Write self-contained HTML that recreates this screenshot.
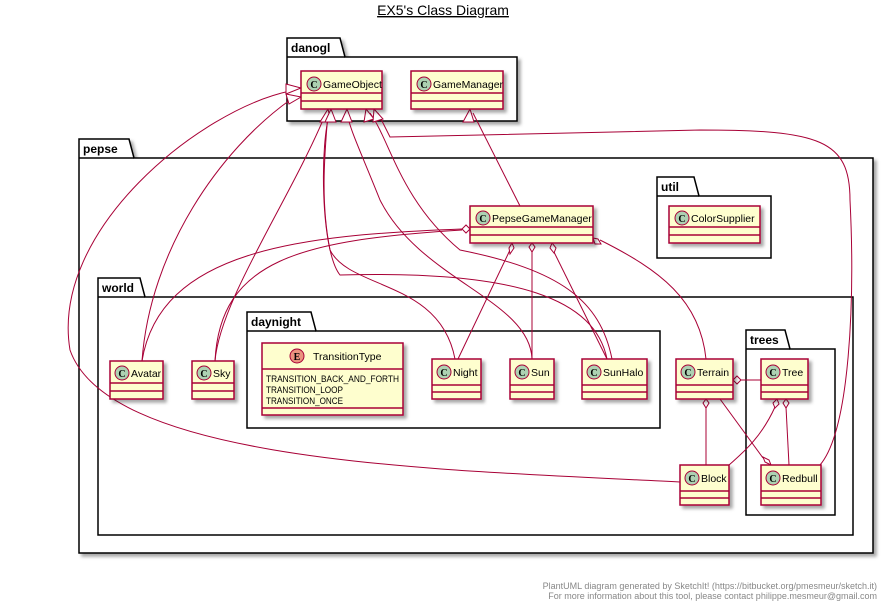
<!DOCTYPE html>
<html><head><style>
body{margin:0;background:#fff;}
svg{display:block;font-family:"Liberation Sans",sans-serif;}
.cls{fill:#FEFECE;stroke:#A80036;stroke-width:1.5;}
.pk{fill:#fff;stroke:#000;stroke-width:1.5;}
.ln{fill:none;stroke:#A80036;stroke-width:1;}
.t{font-size:10.5px;fill:#000;}
.pt{font-size:12px;font-weight:bold;fill:#000;}
</style></head><body>
<svg width="887" height="604" viewBox="0 0 887 604">
<defs>
<filter id="sh" x="-10%" y="-10%" width="130%" height="130%"><feDropShadow dx="3" dy="3" stdDeviation="1.5" flood-color="#000" flood-opacity="0.35"/></filter>
</defs>
<text x="443" y="15" text-anchor="middle" style="font-size:14px;text-decoration:underline">EX5's Class Diagram</text>

<g filter="url(#sh)">
<path class="pk" d="M287,38 h53 l5,19 h172 v64 h-230 z"/>
<path class="pk" d="M79,139 h50 l5,19 h739 v395 h-794 z"/>
<path class="pk" d="M657,177 h37 l5,19 h72 v62 h-114 z"/>
<path class="pk" d="M98,278 h42 l5,19 h708 v238 h-755 z"/>
<path class="pk" d="M247,312 h64 l5,19 h344 v97 h-413 z"/>
<path class="pk" d="M746,330 h39 l5,19 h45 v166 h-89 z"/>
</g>
<line x1="287" y1="57" x2="345" y2="57" stroke="#000" stroke-width="1.5"/>
<line x1="79" y1="158" x2="134" y2="158" stroke="#000" stroke-width="1.5"/>
<line x1="657" y1="196" x2="699" y2="196" stroke="#000" stroke-width="1.5"/>
<line x1="98" y1="297" x2="145" y2="297" stroke="#000" stroke-width="1.5"/>
<line x1="247" y1="331" x2="316" y2="331" stroke="#000" stroke-width="1.5"/>
<line x1="746" y1="349" x2="790" y2="349" stroke="#000" stroke-width="1.5"/>
<text class="pt" x="291" y="52">danogl</text>
<text class="pt" x="83" y="153">pepse</text>
<text class="pt" x="661" y="191">util</text>
<text class="pt" x="102" y="292">world</text>
<text class="pt" x="251" y="326">daynight</text>
<text class="pt" x="750" y="344">trees</text>

<g class="ln">
<path d="M142,361 C150,250 220,150 290,100"/>
<path d="M680,482 C450,470 110,465 70,350 C50,230 200,110 290,91"/>
<path d="M215,361 C220,300 290,200 326,113"/>
<path d="M455,359 C440,280 350,290 330,250 C320,200 325,150 328,113"/>
<path d="M532,359 C530,300 420,280 380,200 C360,150 350,130 347,113"/>
<path d="M612,359 C600,300 560,270 460,250 C400,200 390,140 370,113"/>
<path d="M607,359 C595,300 520,270 340,275 C320,250 320,140 330,113"/>
<path d="M820,465 C850,430 855,300 850,200 C850,140 820,130 700,130 L390,137 L378,113"/>
<path d="M520,206 L473,113"/>
<path d="M462,229 C300,235 160,250 142,361"/>
<path d="M462,230 C300,240 220,260 215,361"/>
<path d="M510,250 L458,359"/>
<path d="M532,251 L532,359"/>
<path d="M553,250 L607,359"/>
<path d="M600,240 C660,270 700,300 706,359"/>
<path d="M741,380 L761,380"/>
<path d="M706,407 L706,465"/>
<path d="M720,399 L763,458"/>
<path d="M775,407 C760,440 740,455 729,465"/>
<path d="M786,407 L789,465"/>
</g>
<g fill="#fff" stroke="#A80036" stroke-width="1">
<polygon points="301,97 286,94 289,104"/>
<polygon points="301,88 286,84 286,94"/>
<polygon points="328,109 320,122 331,122"/>
<polygon points="331,109 325,122 336,122"/>
<polygon points="347,109 341,122 352,122"/>
<polygon points="366,109 364,122 374,119"/>
<polygon points="374,109 373,122 383,119"/>
<polygon points="470,109 463,122 474,122"/>
</g>
<g fill="#fff" stroke="#A80036" stroke-width="1">
<polygon points="470,229 466,225 462,229 466,233"/>
<polygon points="512,243 509,248 510,254 514,248"/>
<polygon points="532,243 529,247 532,252 535,247"/>
<polygon points="552,243 550,248 554,253 556,248"/>
<polygon points="593,238 595,244 601,244 598,239"/>
<polygon points="733,380 737,376 741,380 737,384"/>
<polygon points="706,399 703,403 706,408 709,403"/>
<polygon points="771,465 765,462 763,457 769,460"/>
<polygon points="777,399 773,403 775,408 779,404"/>
<polygon points="786,399 783,403 786,408 789,403"/>
</g>

<g filter="url(#sh)">
<rect class="cls" x="301" y="71" width="81" height="38"/>
<rect class="cls" x="411" y="71" width="92" height="38"/>
<rect class="cls" x="470" y="206" width="123" height="37"/>
<rect class="cls" x="669" y="206" width="91" height="37"/>
<rect class="cls" x="110" y="361" width="53" height="38"/>
<rect class="cls" x="192" y="361" width="42" height="38"/>
<rect class="cls" x="262" y="343" width="141" height="72"/>
<rect class="cls" x="432" y="359" width="49" height="40"/>
<rect class="cls" x="510" y="359" width="44" height="40"/>
<rect class="cls" x="582" y="359" width="65" height="40"/>
<rect class="cls" x="676" y="359" width="57" height="40"/>
<rect class="cls" x="761" y="359" width="47" height="40"/>
<rect class="cls" x="680" y="465" width="49" height="40"/>
<rect class="cls" x="761" y="465" width="60" height="40"/>
</g>
<g stroke="#A80036" stroke-width="1.5">
<line x1="301" y1="93" x2="382" y2="93"/><line x1="301" y1="101" x2="382" y2="101"/>
<line x1="411" y1="93" x2="503" y2="93"/><line x1="411" y1="101" x2="503" y2="101"/>
<line x1="470" y1="227" x2="593" y2="227"/><line x1="470" y1="235" x2="593" y2="235"/>
<line x1="669" y1="227" x2="760" y2="227"/><line x1="669" y1="235" x2="760" y2="235"/>
<line x1="110" y1="383" x2="163" y2="383"/><line x1="110" y1="391" x2="163" y2="391"/>
<line x1="192" y1="383" x2="234" y2="383"/><line x1="192" y1="391" x2="234" y2="391"/>
<line x1="262" y1="369" x2="403" y2="369"/><line x1="262" y1="408" x2="403" y2="408"/>
<line x1="432" y1="385" x2="481" y2="385"/><line x1="432" y1="392" x2="481" y2="392"/>
<line x1="510" y1="385" x2="554" y2="385"/><line x1="510" y1="392" x2="554" y2="392"/>
<line x1="582" y1="385" x2="647" y2="385"/><line x1="582" y1="392" x2="647" y2="392"/>
<line x1="676" y1="385" x2="733" y2="385"/><line x1="676" y1="392" x2="733" y2="392"/>
<line x1="761" y1="385" x2="808" y2="385"/><line x1="761" y1="392" x2="808" y2="392"/>
<line x1="680" y1="491" x2="729" y2="491"/><line x1="680" y1="498" x2="729" y2="498"/>
<line x1="761" y1="491" x2="821" y2="491"/><line x1="761" y1="498" x2="821" y2="498"/>
</g>
<g fill="#ADD1B2" stroke="#A80036" stroke-width="1">
<circle cx="314" cy="84" r="7"/><circle cx="424" cy="84" r="7"/>
<circle cx="483" cy="218" r="7"/><circle cx="682" cy="218" r="7"/>
<circle cx="122" cy="373" r="7"/><circle cx="204" cy="373" r="7"/>
<circle cx="444" cy="372" r="7"/><circle cx="522" cy="372" r="7"/>
<circle cx="594" cy="372" r="7"/><circle cx="688" cy="372" r="7"/>
<circle cx="773" cy="372" r="7"/><circle cx="692" cy="478" r="7"/>
<circle cx="773" cy="478" r="7"/>
</g>
<circle cx="297" cy="356" r="7" fill="#EB937F" stroke="#A80036"/>
<g style="font-size:10px;font-weight:bold" text-anchor="middle" font-family="Liberation Serif">
<text x="314" y="88">C</text><text x="424" y="88">C</text><text x="483" y="222">C</text><text x="682" y="222">C</text>
<text x="122" y="377">C</text><text x="204" y="377">C</text><text x="444" y="376">C</text><text x="522" y="376">C</text>
<text x="594" y="376">C</text><text x="688" y="376">C</text><text x="773" y="376">C</text><text x="692" y="482">C</text>
<text x="773" y="482">C</text><text x="297" y="360">E</text>
</g>
<g class="t">
<text x="323" y="88">GameObject</text>
<text x="433" y="88">GameManager</text>
<text x="492" y="222">PepseGameManager</text>
<text x="691" y="222">ColorSupplier</text>
<text x="131" y="377">Avatar</text>
<text x="213" y="377">Sky</text>
<text x="313" y="360">TransitionType</text>
<text x="453" y="376">Night</text>
<text x="531" y="376">Sun</text>
<text x="603" y="376">SunHalo</text>
<text x="697" y="376">Terrain</text>
<text x="782" y="376">Tree</text>
<text x="701" y="482">Block</text>
<text x="782" y="482">Redbull</text>
<text x="266" y="382" style="font-size:9.5px" textLength="133" lengthAdjust="spacingAndGlyphs">TRANSITION_BACK_AND_FORTH</text>
<text x="266" y="393" style="font-size:9.5px" textLength="77" lengthAdjust="spacingAndGlyphs">TRANSITION_LOOP</text>
<text x="266" y="404" style="font-size:9.5px" textLength="77" lengthAdjust="spacingAndGlyphs">TRANSITION_ONCE</text>
</g>
<g style="font-size:9px;fill:#888" text-anchor="end">
<text x="877" y="589">PlantUML diagram generated by SketchIt! (https://bitbucket.org/pmesmeur/sketch.it)</text>
<text x="877" y="599">For more information about this tool, please contact philippe.mesmeur@gmail.com</text>
</g>
</svg>
</body></html>
